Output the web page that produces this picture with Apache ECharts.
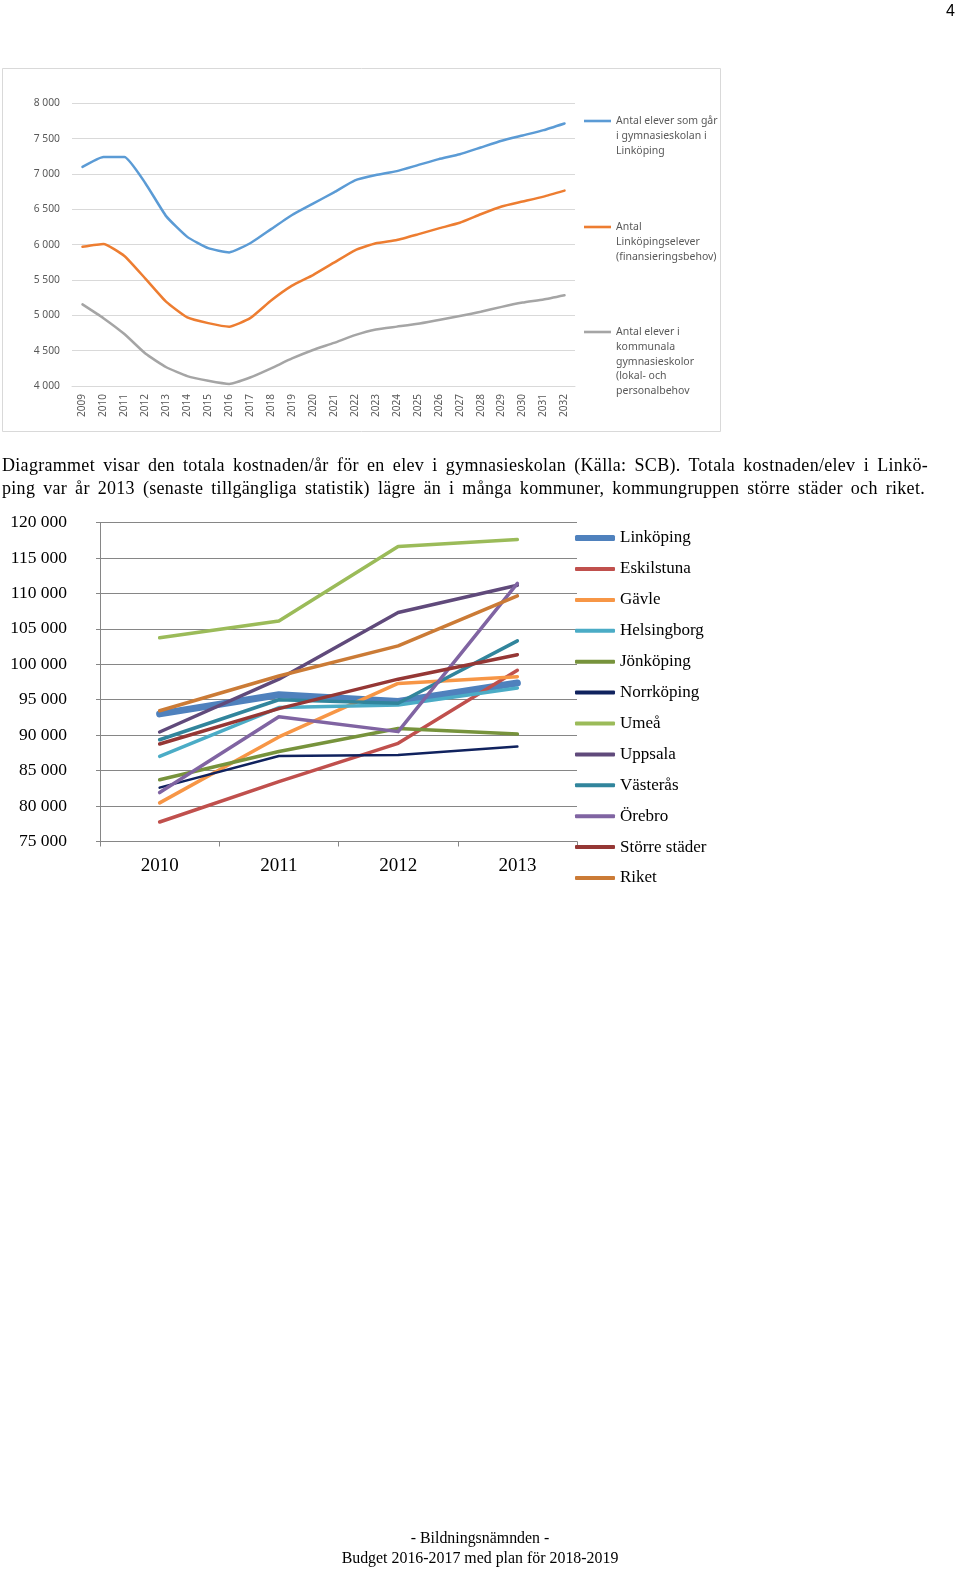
<!DOCTYPE html>
<html>
<head>
<meta charset="utf-8">
<script src="https://cdn.jsdelivr.net/npm/echarts@6/dist/echarts.min.js"></script>
<style>
  html, body { margin: 0; padding: 0; background: #fff; }
  #page { position: relative; width: 960px; height: 1570px; overflow: hidden; }
  #chart { position: absolute; left: 0; top: 0; width: 960px; height: 1570px; }
  .txt { position: absolute; font-family: "Liberation Serif", "Times New Roman", serif; color: #000; white-space: nowrap; }
  .just { text-align: justify; text-align-last: justify; white-space: normal; }
</style>
</head>
<body>
<div id="page">
  <div id="chart"></div>
  <div class="txt" style="left:946px; top:1px; font-family:'Liberation Sans', Arial, sans-serif; font-size:16px; line-height:20px;">4</div>
  <div class="txt just" style="left:2px; top:454px; width:926px; font-size:18px; letter-spacing:0.3px; line-height:23px;">Diagrammet visar den totala kostnaden/år för en elev i gymnasieskolan (Källa: SCB). Totala kostnaden/elev i Linkö-</div>
  <div class="txt just" style="left:2px; top:477px; width:923px; font-size:18px; letter-spacing:0.3px; line-height:23px;">ping var år 2013 (senaste tillgängliga statistik) lägre än i många kommuner, kommungruppen större städer och riket.</div>
  <div class="txt" style="left:0; width:960px; text-align:center; top:1528px; font-size:15.9px; line-height:20px;">- Bildningsnämnden -<br>Budget 2016-2017 med plan för 2018-2019</div>
</div>
<script>
// ---- Top chart data (antal elever) ----
const years = ['2009','2010','2011','2012','2013','2014','2015','2016','2017','2018','2019','2020','2021','2022','2023','2024','2025','2026','2027','2028','2029','2030','2031','2032'];
const elevGymLinkoping = [7100,7240,7240,6870,6400,6110,5950,5890,6020,6220,6420,6580,6740,6910,6985,7040,7125,7210,7280,7375,7470,7545,7620,7715];
const linkopingElever = [5970,6010,5840,5520,5190,4970,4890,4840,4960,5210,5420,5570,5745,5920,6020,6065,6145,6230,6310,6430,6540,6610,6680,6765];
const kommunalaElever = [5155,4960,4735,4460,4265,4140,4075,4030,4120,4250,4390,4510,4610,4720,4800,4840,4880,4935,4990,5050,5120,5180,5225,5285];
const topNames = ['Antal elever som går i gymnasieskolan i Linköping','Antal Linköpingselever (finansieringsbehov)','Antal elever i kommunala gymnasieskolor (lokal- och personalbehov'];
const topLegendText = ['Antal elever som går\ni gymnasieskolan i\nLinköping','Antal\nLinköpingselever\n(finansieringsbehov)','Antal elever i\nkommunala\ngymnasieskolor\n(lokal- och\npersonalbehov'];
const topYTicks = [4000, 8000, 500];

// ---- Bottom chart data (kostnad per elev) ----
const costYears = ['2010','2011','2012','2013'];
const linkoping   = [93000, 95700, 94750, 97350];
const eskilstuna  = [77750, 83450, 88850, 99150];
const gavle       = [80450, 89750, 97300, 98250];
const helsingborg = [87000, 93900, 94250, 96650];
const jonkoping   = [83700, 87700, 90950, 90150];
const norrkoping  = [82600, 87050, 87200, 88400];
const umea        = [103750, 106100, 116600, 117600];
const uppsala     = [90450, 97900, 107300, 111150];
const vasteras    = [89350, 95000, 94500, 103300];
const orebro      = [81900, 92600, 90500, 111400];
const storreStader= [88750, 93750, 97900, 101350];
const riket       = [93450, 98350, 102600, 109650];
const costNames = ['Linköping','Eskilstuna','Gävle','Helsingborg','Jönköping','Norrköping','Umeå','Uppsala','Västerås','Örebro','Större städer','Riket'];
const costValues = [linkoping, eskilstuna, gavle, helsingborg, jonkoping, norrkoping, umea, uppsala, vasteras, orebro, storreStader, riket];
const bottomYTicks = [75000, 120000, 5000];

// ---- styles ----
const topColors = ['#5B9BD5', '#ED7D31', '#A5A5A5'];
const costColors = ['#4F81BD','#C0504D','#F79646','#4BACC6','#77933C','#10225E','#9BBB59','#604A7B','#31859C','#8064A2','#953735','#CB7B36'];
const costWidths = [7, 3.5, 3.5, 3.5, 3.5, 2.5, 3.5, 3.5, 3.5, 3.5, 3.5, 3.5];

function fmt(v) { return String(v).replace(/\B(?=(\d{3})+(?!\d))/g, ' '); }

const chart = echarts.init(document.getElementById('chart'), null, { renderer: 'canvas' });

const topSeries = [elevGymLinkoping, linkopingElever, kommunalaElever].map((d, i) => ({
  name: topNames[i], type: 'line', xAxisIndex: 0, yAxisIndex: 0, data: d,
  showSymbol: false, symbol: 'none', smooth: 0.15,
  lineStyle: { color: topColors[i], width: 2.5, cap: 'round', join: 'round' },
  itemStyle: { color: topColors[i] }, emphasis: { disabled: true }
}));

const costSeries = costValues.map((d, i) => ({
  name: costNames[i], type: 'line', xAxisIndex: 1, yAxisIndex: 1, data: d,
  showSymbol: false, symbol: 'none',
  lineStyle: { color: costColors[i], width: costWidths[i], cap: 'round', join: 'round' },
  itemStyle: { color: costColors[i] }, emphasis: { disabled: true }
}));

const topLegendCenters = [121, 227, 332];
const topLegends = topNames.map((n, i) => {
  const lines = topLegendText[i].split('\n').length;
  const lh = 14.8;
  // prepend empty lines so that the first text line is centred on the icon
  const padded = '\n'.repeat(lines - 1) + topLegendText[i];
  const half = (2 * lines - 1) * lh / 2;
  return {
    data: [n], orient: 'vertical', left: 584, top: topLegendCenters[i] - half,
    padding: 0, itemWidth: 27, itemHeight: 2.6, icon: 'rect', selectedMode: false,
    formatter: () => padded,
    textStyle: { fontFamily: 'Noto Sans', fontSize: 10.5, color: '#595959', lineHeight: lh }
  };
});

const bottomLegendText = { fontFamily: 'Liberation Serif', fontSize: 17, color: '#000', lineHeight: 20 };
const bottomLegends = [
  { data: [costNames[0]], orient: 'vertical', left: 575, top: 528, padding: 0,
    itemWidth: 40, itemHeight: 6, icon: 'roundRect', itemGap: 10.9, selectedMode: false,
    textStyle: bottomLegendText },
  { data: costNames.slice(1), orient: 'vertical', left: 575, top: 559, padding: 0,
    itemWidth: 40, itemHeight: 4, icon: 'roundRect', itemGap: 10.9, selectedMode: false,
    textStyle: bottomLegendText }
];

const option = {
  animation: false,
  backgroundColor: '#fff',
  graphic: [{
    type: 'rect', shape: { x: 2.5, y: 68.5, width: 718, height: 363 },
    style: { fill: 'none', stroke: '#d9d9d9', lineWidth: 1 }, silent: true, z: -1
  }],
  grid: [
    { left: 72, top: 103.3, width: 503, height: 282.7 },
    { left: 100, top: 522.5, width: 477, height: 319 }
  ],
  xAxis: [
    { type: 'category', gridIndex: 0, data: years, boundaryGap: true,
      axisLine: { lineStyle: { color: '#d9d9d9' } }, axisTick: { show: false },
      axisLabel: { rotate: 90, fontFamily: 'Noto Sans', fontSize: 10, color: '#595959', margin: 8, interval: 0 } },
    { type: 'category', gridIndex: 1, data: costYears, boundaryGap: true,
      axisLine: { lineStyle: { color: '#868686', width: 1 } },
      axisTick: { show: true, length: 5, lineStyle: { color: '#868686' } },
      axisLabel: { fontFamily: 'Liberation Serif', fontSize: 19, color: '#000', margin: 15 } }
  ],
  yAxis: [
    { type: 'value', gridIndex: 0, min: topYTicks[0], max: topYTicks[1], interval: topYTicks[2],
      axisLine: { show: false }, axisTick: { show: false },
      splitLine: { lineStyle: { color: '#d9d9d9', width: 1 } },
      axisLabel: { fontFamily: 'Noto Sans', fontSize: 10.3, color: '#595959', margin: 12, formatter: fmt } },
    { type: 'value', gridIndex: 1, min: bottomYTicks[0], max: bottomYTicks[1], interval: bottomYTicks[2],
      axisLine: { show: true, lineStyle: { color: '#868686' } },
      axisTick: { show: true, length: 4, lineStyle: { color: '#868686' } },
      splitLine: { lineStyle: { color: '#868686', width: 1 } },
      axisLabel: { fontFamily: 'Liberation Serif', fontSize: 17.5, color: '#000', margin: 33, formatter: fmt } }
  ],
  legend: topLegends.concat(bottomLegends),
  series: topSeries.concat(costSeries)
};
chart.setOption(option);
</script>
</body>
</html>
